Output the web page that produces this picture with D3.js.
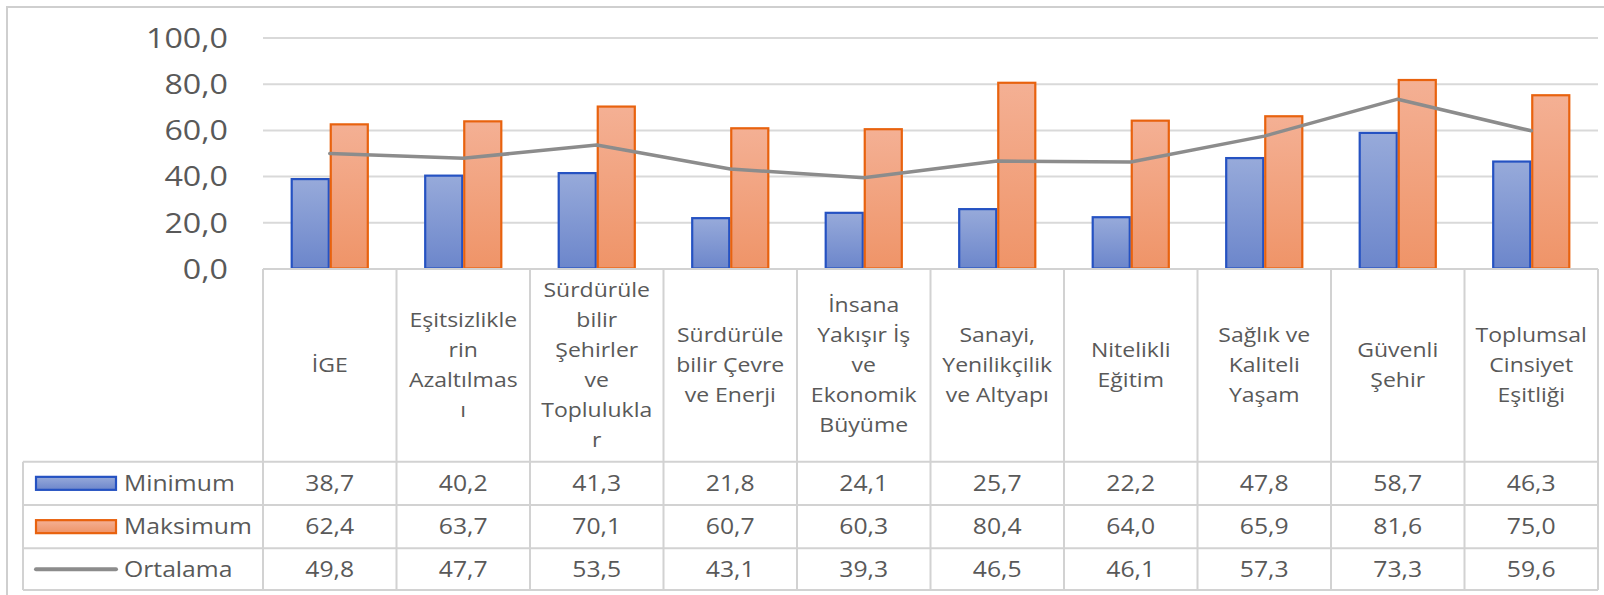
<!DOCTYPE html>
<html><head><meta charset="utf-8">
<script src="https://cdn.jsdelivr.net/npm/d3@7"></script>
<style>html,body{margin:0;padding:0;background:#fff;overflow:hidden}text{font-family:"Open Sans",sans-serif;fill:#595959}</style>
</head><body>
<svg id="c" width="1604" height="595"></svg>
<script>
const categories = [
  "İGE",
  "Eşitsizlikle\nrin\nAzaltılmas\nı",
  "Sürdürüle\nbilir\nŞehirler\nve\nToplulukla\nr",
  "Sürdürüle\nbilir Çevre\nve Enerji",
  "İnsana\nYakışır İş\nve\nEkonomik\nBüyüme",
  "Sanayi,\nYenilikçilik\nve Altyapı",
  "Nitelikli\nEğitim",
  "Sağlık ve\nKaliteli\nYaşam",
  "Güvenli\nŞehir",
  "Toplumsal\nCinsiyet\nEşitliği"
];
const minimum  = [38.7, 40.2, 41.3, 21.8, 24.1, 25.7, 22.2, 47.8, 58.7, 46.3];
const maksimum = [62.4, 63.7, 70.1, 60.7, 60.3, 80.4, 64.0, 65.9, 81.6, 75.0];
const ortalama = [49.8, 47.7, 53.5, 43.1, 39.3, 46.5, 46.1, 57.3, 73.3, 59.6];
const seriesNames = ["Minimum", "Maksimum", "Ortalama"];
const yTicks = [0, 20, 40, 60, 80, 100];

const svg = d3.select("#c");
const SX = 1.15;
const L = 263, R = 1598, T = 37.5, B = 268.5;
const fmt = v => v.toFixed(1).replace(".", ",");

// outer frame
svg.append("rect").attr("x", 7).attr("y", 7).attr("width", 1640).attr("height", 640)
  .attr("fill", "none").attr("stroke", "#cfcfcf").attr("stroke-width", 2);

const y = d3.scaleLinear().domain([0, 100]).range([B, T]);
const x0 = d3.scaleBand().domain(categories).range([L, R]).paddingInner(0.415).paddingOuter(0.2075);
const x1 = d3.scaleBand().domain(["min", "max"]).range([0, x0.bandwidth()]);
const colLeft = c => x0(c) - (x0.step() - x0.bandwidth()) / 2;

// gradients
const defs = svg.append("defs");
function grad(id, top, bot) {
  const g = defs.append("linearGradient").attr("id", id).attr("x1", 0).attr("y1", 0).attr("x2", 0).attr("y2", 1);
  g.append("stop").attr("offset", "0%").attr("stop-color", top);
  g.append("stop").attr("offset", "100%").attr("stop-color", bot);
}
grad("gb", "#97aada", "#6c86cb");
grad("go", "#f4b094", "#ef9468");
const gbH = defs.append("linearGradient").attr("id", "gbL").attr("gradientUnits", "objectBoundingBox");
gbH.append("stop").attr("offset", "0%").attr("stop-color", "#8ea3d8");
gbH.append("stop").attr("offset", "100%").attr("stop-color", "#8ea3d8");

// y axis with gridlines
const ax = svg.append("g").attr("transform", `translate(${L},0)`)
  .call(d3.axisLeft(y).tickValues(yTicks).tickSize(-(R - L)).tickPadding(35).tickFormat(fmt));
ax.select(".domain").remove();
ax.selectAll(".tick line").attr("stroke", "#d9d9d9").attr("stroke-width", 2);
ax.selectAll(".tick text").attr("font-size", 28).attr("fill", "#595959")
  .attr("x", -35 / SX).attr("dy", "0.35em").attr("transform", `scale(${SX},1)`)
  .style("font-family", '"Open Sans",sans-serif');

// bars
const barData = [];
categories.forEach((c, i) => {
  barData.push({ c, k: "min", v: minimum[i] });
  barData.push({ c, k: "max", v: maksimum[i] });
});
svg.append("g").selectAll("rect").data(barData).join("rect")
  .attr("x", d => x0(d.c) + x1(d.k) + 1)
  .attr("y", d => y(d.v))
  .attr("width", x1.bandwidth() - 2)
  .attr("height", d => y(0) - y(d.v))
  .attr("fill", d => d.k === "min" ? "url(#gb)" : "url(#go)")
  .attr("stroke", d => d.k === "min" ? "#2552c2" : "#e8620e")
  .attr("stroke-width", 2.2);

// average line
const line = d3.line().x((d, i) => x0(categories[i]) + x0.bandwidth() / 2).y(d => y(d));
svg.append("path").datum(ortalama).attr("d", line)
  .attr("fill", "none").attr("stroke", "#8c8c8c").attr("stroke-width", 3.5)
  .attr("stroke-linejoin", "round").attr("stroke-linecap", "round");

// data table
const rowY = [461.7, 505, 548.3, 590];
const hdrTop = 269, tblLeft = 23;
const tg = svg.append("g").attr("stroke", "#d2d2d2").attr("stroke-width", 2).attr("fill", "none");
categories.forEach(c => {
  tg.append("line").attr("x1", colLeft(c)).attr("x2", colLeft(c)).attr("y1", hdrTop).attr("y2", rowY[3]);
});
tg.append("line").attr("x1", R).attr("x2", R).attr("y1", hdrTop).attr("y2", rowY[3]);
tg.append("line").attr("x1", L).attr("x2", R).attr("y1", hdrTop).attr("y2", hdrTop);
rowY.forEach(ry => tg.append("line").attr("x1", tblLeft).attr("x2", R).attr("y1", ry).attr("y2", ry));
tg.append("line").attr("x1", tblLeft).attr("x2", tblLeft).attr("y1", rowY[0]).attr("y2", rowY[3]);

// header text
const hdrMid = (hdrTop + rowY[0]) / 2;
const LH = 30;
categories.forEach(c => {
  const lines = c.split("\n");
  const cx = x0(c) + x0.bandwidth() / 2;
  const t = svg.append("text").attr("transform", `translate(${cx},${hdrMid}) scale(${SX},1)`)
    .attr("text-anchor", "middle").attr("font-size", 20);
  lines.forEach((ln, j) => {
    t.append("tspan").attr("x", 0).attr("y", (j - (lines.length - 1) / 2) * LH).attr("dy", "0.35em").text(ln);
  });
});

// value rows
const rows = [minimum, maksimum, ortalama];
rows.forEach((vals, r) => {
  const cy = (rowY[r] + rowY[r + 1]) / 2;
  vals.forEach((v, i) => {
    const c = categories[i];
    svg.append("text").attr("transform", `translate(${x0(c) + x0.bandwidth() / 2},${cy}) scale(${SX},1)`)
      .attr("text-anchor", "middle").attr("dy", "0.35em").attr("font-size", 21.5).text(fmt(v));
  });
  // legend key
  if (r === 0 || r === 1) {
    svg.append("rect").attr("x", 36).attr("y", cy - 6.5).attr("width", 80).attr("height", 13)
      .attr("fill", r === 0 ? "url(#gb)" : "url(#go)")
      .attr("stroke", r === 0 ? "#2552c2" : "#e8620e").attr("stroke-width", 2.2);
  } else {
    svg.append("line").attr("x1", 36).attr("x2", 116).attr("y1", cy).attr("y2", cy)
      .attr("stroke", "#8c8c8c").attr("stroke-width", 4).attr("stroke-linecap", "round");
  }
  svg.append("text").attr("transform", `translate(124,${cy}) scale(${SX},1)`)
    .attr("dy", "0.35em").attr("font-size", 21.5).text(seriesNames[r]);
});
</script>
</body></html>
